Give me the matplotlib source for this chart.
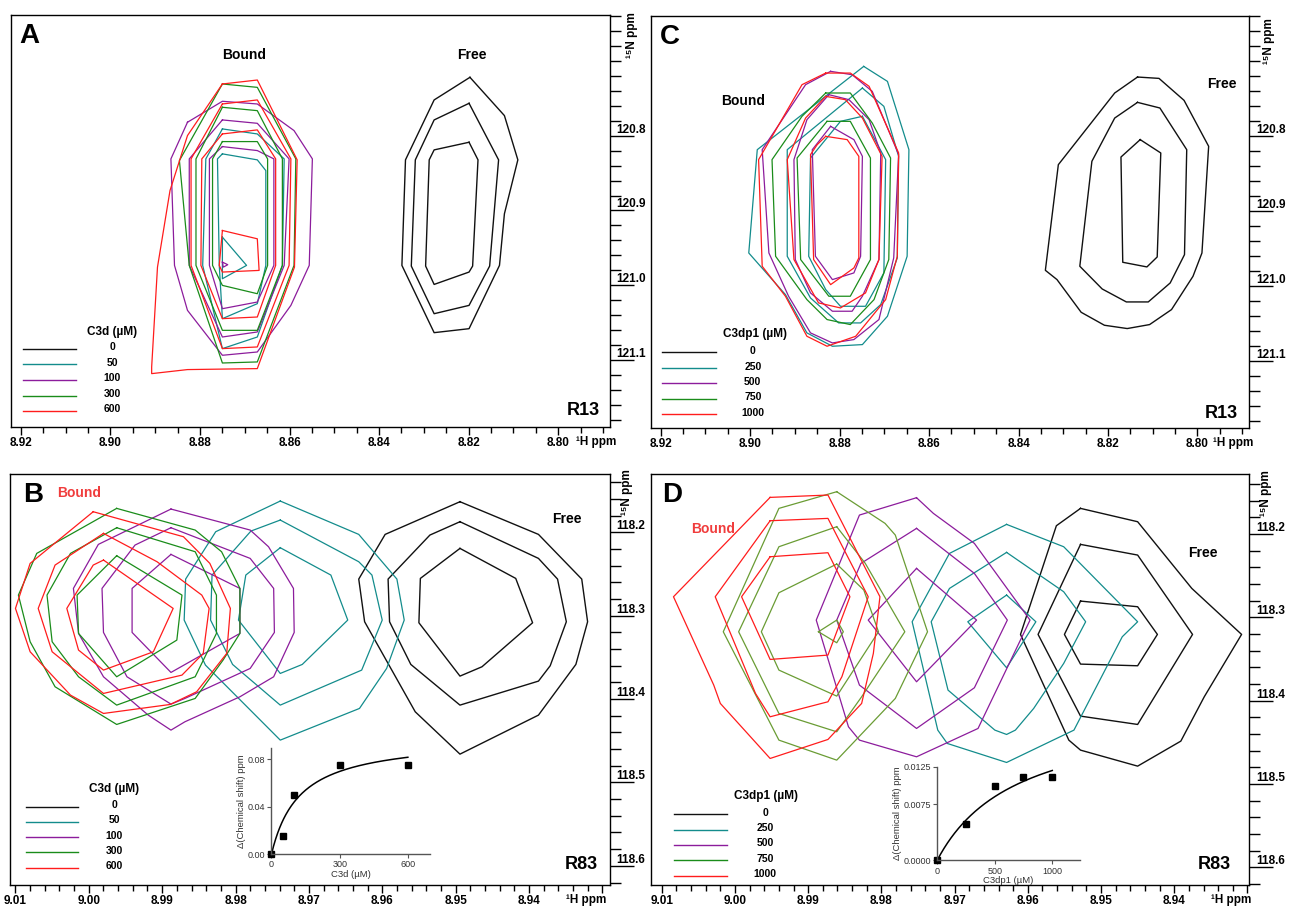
import matplotlib.pyplot as plt
import numpy as np

plt.rcParams['font.family'] = ['Liberation Sans', 'DejaVu Sans']

# contour outlines, (1H ppm, 15N ppm)
# ---- panel A : R13, C3d titration
a_free = [
    [(8.8197, 120.7222), (8.8120, 120.7733), (8.8090, 120.8324), (8.8120, 120.9044), (8.8131, 120.9733),
     (8.8199, 121.0578), (8.8277, 121.0631), (8.8349, 120.9733), (8.8341, 120.8324), (8.8277, 120.7524)],
    [(8.8199, 120.7569), (8.8133, 120.8324), (8.8153, 120.9742), (8.8199, 121.0267), (8.8277, 121.0378),
     (8.8328, 120.9742), (8.8319, 120.8324), (8.8277, 120.7791)],
    [(8.8199, 120.8089), (8.8179, 120.8324), (8.8191, 120.9742), (8.8199, 120.9822), (8.8277, 120.9987),
     (8.8296, 120.9742), (8.8288, 120.8324), (8.8277, 120.8191)],
]
a_50 = [
    [(8.8750, 120.7911), (8.8672, 120.7978), (8.8612, 120.8311), (8.8616, 120.9733), (8.8672, 121.0689),
     (8.8750, 121.0844), (8.8794, 120.9733), (8.8787, 120.8311)],
    [(8.8750, 120.8244), (8.8672, 120.8324), (8.8653, 120.8467), (8.8653, 120.9733), (8.8672, 121.0244),
     (8.8750, 121.0444), (8.8757, 120.9733), (8.8761, 120.8311)],
    [(8.8750, 120.9356), (8.8696, 120.9733), (8.8750, 120.9911)],
]
a_100 = [
    [(8.8828, 120.7822), (8.8750, 120.7542), (8.8672, 120.7578), (8.8590, 120.7933), (8.8549, 120.8311),
     (8.8556, 120.9733), (8.8597, 121.0267), (8.8672, 121.0889), (8.8750, 121.0933), (8.8828, 121.0333),
     (8.8857, 120.9733), (8.8865, 120.8311)],
    [(8.8750, 120.7791), (8.8672, 120.7836), (8.8601, 120.8311), (8.8612, 120.9733), (8.8672, 121.0622),
     (8.8750, 121.0689), (8.8824, 120.9733), (8.8824, 120.8311)],
    [(8.8750, 120.8147), (8.8672, 120.8200), (8.8635, 120.8311), (8.8635, 120.9733), (8.8672, 121.0222),
     (8.8750, 121.0311), (8.8779, 120.9733), (8.8779, 120.8311)],
    [(8.8750, 120.9689), (8.8738, 120.9724), (8.8748, 120.9756)],
]
a_300 = [
    [(8.8750, 120.7311), (8.8672, 120.7356), (8.8586, 120.8311), (8.8590, 120.9733), (8.8672, 121.1022),
     (8.8750, 121.1036), (8.8824, 120.9733), (8.8846, 120.8333)],
    [(8.8750, 120.7622), (8.8672, 120.7667), (8.8616, 120.8311), (8.8616, 120.9733), (8.8672, 121.0600),
     (8.8750, 121.0600), (8.8809, 120.9733), (8.8809, 120.8311)],
    [(8.8750, 120.8080), (8.8672, 120.8080), (8.8649, 120.8311), (8.8649, 120.9733), (8.8672, 121.0111),
     (8.8750, 121.0000), (8.8772, 120.9733), (8.8772, 120.8311)],
]
a_600 = [
    [(8.8750, 120.7311), (8.8672, 120.7258), (8.8583, 120.8324), (8.8589, 120.9756), (8.8672, 121.1111),
     (8.8828, 121.1124), (8.8908, 121.1178), (8.8908, 121.1089), (8.8895, 120.9756), (8.8867, 120.8733),
     (8.8828, 120.8000)],
    [(8.8750, 120.7578), (8.8672, 120.7524), (8.8597, 120.8311), (8.8601, 120.9733), (8.8672, 121.0822),
     (8.8750, 121.0844), (8.8820, 120.9733), (8.8820, 120.8311)],
    [(8.8750, 120.7978), (8.8672, 120.7924), (8.8631, 120.8311), (8.8631, 120.9733), (8.8672, 121.0422),
     (8.8750, 121.0444), (8.8798, 120.9733), (8.8796, 120.8311)],
    [(8.8750, 120.9267), (8.8672, 120.9378), (8.8668, 120.9800), (8.8750, 120.9822), (8.8757, 120.9733)],
]

# ---- panel C : R13, C3dp1 titration
c_free = [
    [(8.8134, 120.7209), (8.8086, 120.7227), (8.8030, 120.7520), (8.7975, 120.8133), (8.7990, 120.9556),
     (8.8010, 120.9867), (8.8058, 121.0311), (8.8107, 121.0511), (8.8157, 121.0564), (8.8208, 121.0520),
     (8.8260, 121.0347), (8.8314, 120.9911), (8.8340, 120.9787), (8.8311, 120.8378), (8.8185, 120.7422)],
    [(8.8134, 120.7547), (8.8084, 120.7622), (8.8024, 120.8178), (8.8029, 120.9578), (8.8061, 120.9956),
     (8.8110, 121.0209), (8.8159, 121.0209), (8.8213, 121.0036), (8.8263, 120.9733), (8.8236, 120.8333),
     (8.8185, 120.7756)],
    [(8.8128, 120.8044), (8.8082, 120.8222), (8.8090, 120.9609), (8.8113, 120.9742), (8.8167, 120.9680),
     (8.8171, 120.8276)],
]
c_250 = [
    [(8.8746, 120.7067), (8.8693, 120.7267), (8.8645, 120.8178), (8.8649, 120.9600), (8.8693, 121.0400),
     (8.8749, 121.0778), (8.8816, 121.0800), (8.8873, 121.0622), (8.8921, 121.0111), (8.9003, 120.9556),
     (8.8984, 120.8178)],
    [(8.8749, 120.7356), (8.8701, 120.7600), (8.8668, 120.8267), (8.8671, 120.9622), (8.8708, 121.0244),
     (8.8753, 121.0489), (8.8802, 121.0489), (8.8865, 121.0156), (8.8917, 120.9600), (8.8917, 120.8178)],
    [(8.8749, 120.7733), (8.8798, 120.7800), (8.8865, 120.8289), (8.8869, 120.9600), (8.8831, 121.0044),
     (8.8798, 121.0267), (8.8742, 121.0267), (8.8701, 120.9822), (8.8697, 120.8311)],
]
c_500 = [
    [(8.8820, 120.7133), (8.8772, 120.7178), (8.8727, 120.7400), (8.8668, 120.8244), (8.8679, 120.9622),
     (8.8712, 121.0444), (8.8768, 121.0711), (8.8816, 121.0756), (8.8865, 121.0622), (8.8914, 121.0133),
     (8.8958, 120.9556), (8.8973, 120.8178), (8.8876, 120.7311)],
    [(8.8824, 120.7444), (8.8779, 120.7511), (8.8734, 120.7778), (8.8708, 120.8222), (8.8712, 120.9644),
     (8.8749, 121.0133), (8.8772, 121.0333), (8.8816, 121.0333), (8.8865, 121.0089), (8.8899, 120.9644),
     (8.8902, 120.8311), (8.8873, 120.7778)],
    [(8.8820, 120.7867), (8.8768, 120.8044), (8.8749, 120.8267), (8.8753, 120.9600), (8.8768, 120.9822),
     (8.8816, 120.9911), (8.8854, 120.9600), (8.8861, 120.8178)],
]
c_750 = [
    [(8.8831, 120.7422), (8.8776, 120.7422), (8.8727, 120.7822), (8.8686, 120.8289), (8.8690, 120.9644),
     (8.8723, 121.0178), (8.8776, 121.0511), (8.8828, 121.0444), (8.8873, 121.0178), (8.8943, 120.9600),
     (8.8951, 120.8311), (8.8884, 120.7733)],
    [(8.8828, 120.7800), (8.8776, 120.7800), (8.8731, 120.8289), (8.8731, 120.9644), (8.8776, 121.0133),
     (8.8824, 121.0133), (8.8887, 120.9644), (8.8895, 120.8289)],
]
c_1000 = [
    [(8.8831, 120.7156), (8.8776, 120.7156), (8.8734, 120.7333), (8.8668, 120.8222), (8.8671, 120.9600),
     (8.8697, 121.0178), (8.8764, 121.0667), (8.8828, 121.0800), (8.8873, 121.0667), (8.8921, 121.0133),
     (8.8973, 120.9733), (8.8981, 120.8311), (8.8884, 120.7311)],
    [(8.8831, 120.7467), (8.8787, 120.7511), (8.8749, 120.7756), (8.8705, 120.8267), (8.8712, 120.9644),
     (8.8742, 121.0089), (8.8798, 121.0289), (8.8847, 121.0222), (8.8902, 120.9644), (8.8917, 120.8311),
     (8.8876, 120.7756)],
    [(8.8831, 120.8000), (8.8783, 120.8044), (8.8757, 120.8267), (8.8757, 120.9622), (8.8768, 120.9756),
     (8.8820, 120.9978), (8.8858, 120.9644), (8.8865, 120.8244), (8.8850, 120.8111)],
]

# ---- panel B : R83, C3d titration
b_free = [
    [(8.9494, 118.1632), (8.9387, 118.2024), (8.9328, 118.2560), (8.9320, 118.3072), (8.9336, 118.3584),
     (8.9387, 118.4192), (8.9494, 118.4660), (8.9555, 118.4152), (8.9624, 118.3072), (8.9632, 118.2560),
     (8.9596, 118.2024)],
    [(8.9494, 118.1872), (8.9387, 118.2312), (8.9361, 118.2560), (8.9349, 118.3072), (8.9371, 118.3600),
     (8.9387, 118.3784), (8.9494, 118.4072), (8.9561, 118.3584), (8.9590, 118.3072), (8.9592, 118.2560),
     (8.9535, 118.2032)],
    [(8.9494, 118.2192), (8.9418, 118.2552), (8.9395, 118.3084), (8.9464, 118.3612), (8.9494, 118.3724),
     (8.9550, 118.3084), (8.9548, 118.2552)],
]
b_50 = [
    [(8.9739, 118.1624), (8.9632, 118.2024), (8.9580, 118.2560), (8.9570, 118.3052), (8.9594, 118.3632),
     (8.9631, 118.4112), (8.9739, 118.4492), (8.9841, 118.3592), (8.9870, 118.3052), (8.9868, 118.2560),
     (8.9827, 118.1992)],
    [(8.9739, 118.1852), (8.9632, 118.2352), (8.9614, 118.2512), (8.9600, 118.3052), (8.9628, 118.3652),
     (8.9739, 118.4072), (8.9804, 118.3584), (8.9834, 118.3052), (8.9832, 118.2512), (8.9779, 118.1984)],
    [(8.9739, 118.2184), (8.9670, 118.2512), (8.9647, 118.3052), (8.9709, 118.3584), (8.9739, 118.3692),
     (8.9796, 118.3052), (8.9786, 118.2512)],
]
b_100 = [
    [(8.9888, 118.1720), (8.9780, 118.1972), (8.9755, 118.2172), (8.9721, 118.2672), (8.9720, 118.3200),
     (8.9748, 118.3732), (8.9794, 118.3972), (8.9869, 118.4272), (8.9888, 118.4372), (8.9919, 118.4192),
     (8.9980, 118.3732), (9.0014, 118.3212), (9.0021, 118.2672), (8.9987, 118.2144)],
    [(8.9888, 118.1944), (8.9780, 118.2312), (8.9748, 118.2672), (8.9747, 118.3200), (8.9780, 118.3632),
     (8.9869, 118.3992), (8.9888, 118.4060), (8.9948, 118.3732), (8.9980, 118.3200), (8.9982, 118.2672),
     (8.9937, 118.2152)],
    [(8.9888, 118.2264), (8.9794, 118.2672), (8.9794, 118.3212), (8.9888, 118.3680), (8.9941, 118.3200),
     (8.9941, 118.2672)],
]
b_300 = [
    [(8.9962, 118.1712), (8.9855, 118.1972), (8.9819, 118.2232), (8.9794, 118.2672), (8.9794, 118.3212),
     (8.9817, 118.3532), (8.9855, 118.3992), (8.9962, 118.4304), (9.0046, 118.3852), (9.0080, 118.3312),
     (9.0096, 118.2752), (9.0071, 118.2252)],
    [(8.9962, 118.1944), (8.9855, 118.2232), (8.9826, 118.2752), (8.9826, 118.3212), (8.9855, 118.3732),
     (8.9962, 118.4072), (9.0014, 118.3732), (9.0050, 118.3312), (9.0057, 118.2752), (9.0025, 118.2252)],
    [(8.9962, 118.2280), (8.9873, 118.2752), (8.9880, 118.3292), (8.9962, 118.3732), (9.0014, 118.3212),
     (9.0016, 118.2752)],
]
b_600 = [
    [(8.9994, 118.1752), (8.9871, 118.2052), (8.9835, 118.2372), (8.9807, 118.2912), (8.9812, 118.3452),
     (8.9853, 118.3912), (8.9889, 118.4064), (8.9980, 118.4172), (9.0025, 118.3952), (9.0080, 118.3432),
     (9.0100, 118.2912), (9.0080, 118.2372)],
    [(8.9980, 118.2012), (8.9907, 118.2352), (8.9846, 118.2752), (8.9836, 118.2912), (8.9844, 118.3452),
     (8.9873, 118.3712), (8.9980, 118.3932), (9.0050, 118.3432), (9.0069, 118.2912), (9.0046, 118.2392)],
    [(8.9980, 118.2332), (8.9885, 118.2912), (8.9912, 118.3432), (8.9980, 118.3652), (9.0014, 118.3412),
     (9.0030, 118.2912), (8.9994, 118.2392)],
]

# ---- panel D : R83, C3dp1 titration
d_free = [
    [(8.9528, 118.1692), (8.9450, 118.1852), (8.9376, 118.2652), (8.9308, 118.3204), (8.9359, 118.3952),
     (8.9391, 118.4484), (8.9450, 118.4784), (8.9528, 118.4592), (8.9544, 118.4472), (8.9610, 118.3204),
     (8.9561, 118.1900)],
    [(8.9528, 118.2124), (8.9450, 118.2252), (8.9375, 118.3204), (8.9450, 118.4284), (8.9528, 118.4184),
     (8.9586, 118.3204)],
    [(8.9528, 118.2804), (8.9450, 118.2872), (8.9423, 118.3204), (8.9450, 118.3580), (8.9528, 118.3560),
     (8.9550, 118.3204)],
]
d_250 = [
    [(8.9629, 118.1884), (8.9551, 118.2152), (8.9450, 118.3052), (8.9471, 118.3232), (8.9537, 118.4352),
     (8.9629, 118.4740), (8.9710, 118.4512), (8.9723, 118.4352), (8.9758, 118.3052), (8.9707, 118.2232)],
    [(8.9629, 118.2220), (8.9551, 118.2692), (8.9521, 118.3052), (8.9551, 118.3552), (8.9592, 118.4092),
     (8.9617, 118.4352), (8.9629, 118.4404), (8.9645, 118.4352), (8.9709, 118.3872), (8.9732, 118.3052),
     (8.9707, 118.2652)],
    [(8.9629, 118.2732), (8.9589, 118.3052), (8.9629, 118.3604), (8.9682, 118.3052)],
]
d_500 = [
    [(8.9752, 118.1564), (8.9729, 118.1752), (8.9673, 118.2112), (8.9597, 118.3032), (8.9668, 118.4332),
     (8.9752, 118.4672), (8.9830, 118.4472), (8.9845, 118.4312), (8.9889, 118.3032), (8.9830, 118.1772)],
    [(8.9752, 118.1932), (8.9673, 118.2472), (8.9628, 118.3032), (8.9673, 118.3844), (8.9752, 118.4332),
     (8.9830, 118.3812), (8.9861, 118.3032), (8.9828, 118.2352)],
    [(8.9752, 118.2412), (8.9670, 118.3032), (8.9752, 118.3772), (8.9818, 118.3032)],
]
d_750 = [
    [(8.9861, 118.1492), (8.9795, 118.1872), (8.9781, 118.2012), (8.9737, 118.3172), (8.9781, 118.3972),
     (8.9861, 118.4712), (8.9940, 118.4472), (9.0016, 118.3172), (8.9940, 118.1692)],
    [(8.9861, 118.1912), (8.9822, 118.2352), (8.9768, 118.3172), (8.9827, 118.3952), (8.9861, 118.4372),
     (8.9940, 118.4152), (8.9995, 118.3172), (8.9940, 118.2152)],
    [(8.9861, 118.2360), (8.9824, 118.2672), (8.9804, 118.3172), (8.9861, 118.3944), (8.9940, 118.3632),
     (8.9964, 118.3172), (8.9940, 118.2704)],
    [(8.9886, 118.3172), (8.9861, 118.3032), (8.9852, 118.3172), (8.9861, 118.3304)],
]
d_1000 = [
    [(8.9952, 118.1560), (8.9873, 118.1532), (8.9802, 118.2752), (8.9811, 118.3432), (8.9827, 118.4032),
     (8.9873, 118.4464), (8.9952, 118.4692), (9.0020, 118.4032), (9.0029, 118.3812), (9.0084, 118.2752)],
    [(8.9952, 118.1840), (8.9873, 118.1812), (8.9818, 118.2752), (8.9854, 118.3712), (8.9873, 118.4012),
     (8.9952, 118.4192), (8.9972, 118.3912), (9.0027, 118.2752)],
    [(8.9952, 118.2272), (8.9873, 118.2224), (8.9843, 118.2752), (8.9873, 118.3452), (8.9952, 118.3504),
     (8.9991, 118.2752)],
]

# titration curves (insets)
c3d_conc = [0, 50, 100, 300, 600]
c3d_shift = [0.0, 0.0155, 0.050, 0.0755, 0.0755]
c3d_fit = (0.0986, 124.0)      # Bmax, Kd (µM)
c3dp1_conc = [0, 250, 500, 750, 1000]
c3dp1_shift = [0.0, 0.0049, 0.0099, 0.0111, 0.0111]
c3dp1_fit = (0.0204, 700.0)

c3d_levels = ['0', '50', '100', '300', '600']
c3dp1_levels = ['0', '250', '500', '750', '1000']

BLACK = '#111111'
TEAL = '#138c8c'
PURPLE = '#8c1c9c'
GREEN = '#1a8c1a'
OLIVE = '#6a9c34'
RED = '#ff1c1c'
legend_colors = [BLACK, TEAL, PURPLE, GREEN, RED]

BOLD = dict(fontweight='bold')


def draw_polys(ax, polys, color, lw=0.9):
    for p in polys:
        arr = np.array(p + [p[0]])
        ax.plot(arr[:, 0], arr[:, 1], color=color, lw=lw)


def setup_r13(ax):
    ax.set_xlim(8.9222, 8.7885)
    ax.set_ylim(121.189, 120.639)
    ax.set_xticks([8.92, 8.90, 8.88, 8.86, 8.84, 8.82, 8.80])
    ax.set_xticklabels(['8.92', '8.90', '8.88', '8.86', '8.84', '8.82', '8.80'], **BOLD)
    ax.set_xticks(np.arange(8.79, 8.9226, 0.005), minor=True)
    ax.set_yticks([120.8, 120.9, 121.0, 121.1])
    ax.set_yticklabels(['120.8', '120.9', '121.0', '121.1'], va='bottom', **BOLD)
    ax.set_yticks(np.arange(120.64, 121.19, 0.02), minor=True)


def setup_r83(ax, x0, x1, y0, y1):
    ax.set_xlim(x0, x1)
    ax.set_ylim(y1, y0)
    xt = [9.01, 9.00, 8.99, 8.98, 8.97, 8.96, 8.95, 8.94, 8.93]
    ax.set_xticks(xt)
    ax.set_xticklabels(['9.01', '9.00', '8.99', '8.98', '8.97', '8.96', '8.95', '8.94', ''], **BOLD)
    ax.set_xticks(np.arange(8.93, 9.0111, 0.002), minor=True)
    ax.set_yticks([118.2, 118.3, 118.4, 118.5, 118.6])
    ax.set_yticklabels(['118.2', '118.3', '118.4', '118.5', '118.6'], va='bottom', **BOLD)
    ax.set_yticks(np.arange(118.14, 118.62, 0.02), minor=True)


def style_axes(ax, hx, nx, ny):
    for s in ax.spines.values():
        s.set_linewidth(1.0)
    ax.yaxis.set_ticks_position('right')
    ax.tick_params(axis='x', which='major', length=6, width=1, labelsize=8.5, pad=1.5)
    ax.tick_params(axis='x', which='minor', length=4.5, width=1)
    ax.tick_params(axis='y', which='major', length=17, width=1, labelsize=8.5, pad=-12)
    ax.tick_params(axis='y', which='minor', length=8, width=1)
    ax.text(hx, -0.022, '¹H ppm', transform=ax.transAxes, ha='center', va='top',
            fontsize=8.5, **BOLD)
    ax.text(nx, ny, '¹⁵N ppm', transform=ax.transAxes, ha='center', va='center',
            rotation=90, fontsize=8.5, **BOLD)


def legend(ax, title, levels, tx, ty, lx0, lx1, rows, labx):
    ax.text(tx, ty, title, transform=ax.transAxes, ha='center', va='center', fontsize=8.5, **BOLD)
    for lev, col, ry in zip(levels, legend_colors, rows):
        ax.plot([lx0, lx1], [ry, ry], color=col, lw=1.0, transform=ax.transAxes)
        ax.text(labx, ry + 0.004, lev, transform=ax.transAxes, ha='center', va='center',
                fontsize=7.5, **BOLD)


def inset(fig, rect, conc, shift, fit, xlim, ylim, xt, yt, yfmt, xlabel):
    ia = fig.add_axes(rect)
    ia.set_facecolor('none')
    bmax, kd = fit
    xs = np.linspace(0, conc[-1], 200)
    ia.plot(xs, bmax * xs / (kd + xs), color='black', lw=1.1)
    ia.plot(conc, shift, 's', color='black', ms=4, clip_on=False)
    ia.set_xlim(*xlim)
    ia.set_ylim(*ylim)
    ia.set_xticks(xt)
    ia.set_yticks(yt)
    ia.set_yticklabels([yfmt.format(v) for v in yt])
    for s in ['top', 'right']:
        ia.spines[s].set_visible(False)
    for s in ['left', 'bottom']:
        ia.spines[s].set_color('#555555')
        ia.spines[s].set_linewidth(1.0)
    ia.tick_params(labelsize=6.5, length=3, width=0.8, colors='#555555', pad=1.5)
    ia.tick_params(labelcolor='#333333')
    ia.set_xlabel(xlabel, fontsize=6.8, labelpad=0.5, color='#333333')
    ia.set_ylabel('Δ(Chemical shift) ppm', fontsize=6.8, labelpad=1, color='#333333')
    return ia


fig = plt.figure(figsize=(12.91, 9.09), dpi=100)

# panel A
axA = fig.add_axes([0.0086, 0.5303, 0.4636, 0.4532])
draw_polys(axA, a_free, BLACK, lw=1.0)
draw_polys(axA, a_50, TEAL)
draw_polys(axA, a_100, PURPLE)
draw_polys(axA, a_300, GREEN)
draw_polys(axA, a_600, RED)
setup_r13(axA)
style_axes(axA, 0.978, 1.037, 0.951)
axA.text(0.031, 0.949, 'A', transform=axA.transAxes, ha='center', va='center', fontsize=20, **BOLD)
axA.text(0.389, 0.903, 'Bound', transform=axA.transAxes, ha='center', va='center', fontsize=10, **BOLD)
axA.text(0.770, 0.903, 'Free', transform=axA.transAxes, ha='center', va='center', fontsize=10, **BOLD)
axA.text(0.956, 0.039, 'R13', transform=axA.transAxes, ha='center', va='center', fontsize=13, **BOLD)
legend(axA, 'C3d (µM)', c3d_levels, 0.169, 0.231, 0.0206, 0.1086,
       [0.189, 0.152, 0.114, 0.076, 0.039], 0.169)

# panel C
axC = fig.add_axes([0.5041, 0.5292, 0.4633, 0.4536])
draw_polys(axC, c_free, BLACK, lw=1.0)
draw_polys(axC, c_250, TEAL)
draw_polys(axC, c_500, PURPLE)
draw_polys(axC, c_750, GREEN)
draw_polys(axC, c_1000, RED)
setup_r13(axC)
style_axes(axC, 0.973, 1.034, 0.939)
axC.text(0.0316, 0.948, 'C', transform=axC.transAxes, ha='center', va='center', fontsize=20, **BOLD)
axC.text(0.155, 0.793, 'Bound', transform=axC.transAxes, ha='center', va='center', fontsize=10, **BOLD)
axC.text(0.955, 0.834, 'Free', transform=axC.transAxes, ha='center', va='center', fontsize=10, **BOLD)
axC.text(0.9533, 0.036, 'R13', transform=axC.transAxes, ha='center', va='center', fontsize=13, **BOLD)
legend(axC, 'C3dp1 (µM)', c3dp1_levels, 0.174, 0.228, 0.0192, 0.1087,
       [0.1836, 0.1448, 0.1084, 0.0703, 0.0332], 0.1705)

# panel B
axB = fig.add_axes([0.0080, 0.0264, 0.4642, 0.4521])
draw_polys(axB, b_free, BLACK, lw=1.0)
draw_polys(axB, b_50, TEAL)
draw_polys(axB, b_100, PURPLE)
draw_polys(axB, b_300, GREEN)
draw_polys(axB, b_600, RED)
setup_r83(axB, 9.0107, 8.9290, 118.130, 118.623)
style_axes(axB, 0.9606, 1.029, 0.957)
axB.text(0.0379, 0.949, 'B', transform=axB.transAxes, ha='center', va='center', fontsize=20, **BOLD)
axB.text(0.1153, 0.953, 'Bound', transform=axB.transAxes, ha='center', va='center', fontsize=10,
         color='#f03c3c', **BOLD)
axB.text(0.9286, 0.891, 'Free', transform=axB.transAxes, ha='center', va='center', fontsize=10, **BOLD)
axB.text(0.952, 0.0507, 'R83', transform=axB.transAxes, ha='center', va='center', fontsize=13, **BOLD)
legend(axB, 'C3d (µM)', c3d_levels, 0.1725, 0.2326, 0.0254, 0.1133,
       [0.1908, 0.1539, 0.1159, 0.0797, 0.0418], 0.173)

# panel D
axD = fig.add_axes([0.5041, 0.0264, 0.4633, 0.4521])
draw_polys(axD, d_free, BLACK, lw=1.0)
draw_polys(axD, d_250, TEAL)
draw_polys(axD, d_500, PURPLE)
draw_polys(axD, d_750, OLIVE)
draw_polys(axD, d_1000, RED)
setup_r83(axD, 9.0115, 8.9298, 118.128, 118.621)
style_axes(axD, 0.971, 1.0286, 0.954)
axD.text(0.0364, 0.949, 'D', transform=axD.transAxes, ha='center', va='center', fontsize=20, **BOLD)
axD.text(0.0672, 0.867, 'Bound', transform=axD.transAxes, ha='left', va='center', fontsize=10,
         color='#f03c3c', **BOLD)
axD.text(0.9233, 0.809, 'Free', transform=axD.transAxes, ha='center', va='center', fontsize=10, **BOLD)
axD.text(0.9428, 0.0507, 'R83', transform=axD.transAxes, ha='center', va='center', fontsize=13, **BOLD)
legend(axD, 'C3dp1 (µM)', c3dp1_levels, 0.1934, 0.2167, 0.0385, 0.1279,
       [0.1722, 0.1345, 0.0973, 0.0604, 0.0225], 0.191)

# insets
inset(fig, [0.2103, 0.0605, 0.1227, 0.1163], c3d_conc, c3d_shift, c3d_fit,
      (0, 697), (0, 0.0893), [0, 300, 600], [0.0, 0.04, 0.08], '{:.2f}', 'C3d (µM)')
inset(fig, [0.7259, 0.0535, 0.1105, 0.1030], c3dp1_conc, c3dp1_shift, c3dp1_fit,
      (0, 1239), (0, 0.0125), [0, 500, 1000], [0.0, 0.0075, 0.0125], '{:.4f}', 'C3dp1 (µM)')

fig.savefig('out.png', dpi=100)
